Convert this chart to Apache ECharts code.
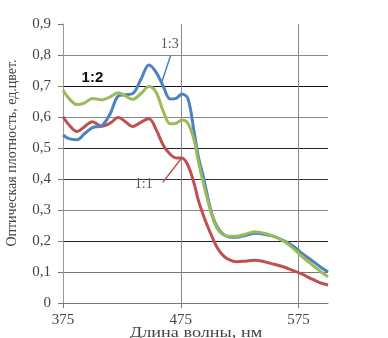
<!DOCTYPE html>
<html><head><meta charset="utf-8">
<script src="https://cdn.jsdelivr.net/npm/echarts@6/dist/echarts.min.js"></script>
<style>html,body{margin:0;padding:0;background:#fff}#c{width:388px;height:338px}</style>
</head><body><div id="c"></div>
<script>
const wavelengths = [375,380,387,393,400,408,415,422,428,434,441,448,454,460,466,471,476,481,486,490,494,498,502,506,511,516,522,530,538,546,554,562,570,578,586,593,600];
const ratio13 = [0.542,0.53,0.527,0.545,0.566,0.572,0.61,0.668,0.672,0.675,0.72,0.768,0.745,0.70,0.658,0.66,0.674,0.66,0.56,0.47,0.41,0.34,0.28,0.245,0.222,0.213,0.212,0.218,0.225,0.222,0.215,0.202,0.185,0.16,0.138,0.118,0.1];
const ratio12 = [0.687,0.66,0.64,0.645,0.66,0.655,0.665,0.678,0.668,0.657,0.675,0.698,0.68,0.62,0.578,0.58,0.59,0.58,0.53,0.455,0.39,0.33,0.275,0.24,0.22,0.215,0.215,0.222,0.23,0.225,0.215,0.2,0.178,0.15,0.125,0.103,0.085];
const ratio11 = [0.601,0.575,0.553,0.568,0.585,0.57,0.58,0.598,0.585,0.569,0.583,0.594,0.56,0.51,0.48,0.468,0.468,0.445,0.39,0.33,0.285,0.245,0.21,0.178,0.153,0.14,0.133,0.135,0.138,0.133,0.125,0.117,0.105,0.093,0.078,0.066,0.058];
const xStart = 375, xEnd = 600;
const xTicks = [375, 475, 575];
const yTitle = 'Оптическая плотность, ед.цвет.';
const xTitle = 'Длина волны, нм';
const colors = {'1:1':'#C0504D','1:3':'#4F81BD','1:2':'#9BBB59'};

const pairs = vals => wavelengths.map((w,i)=>[w - xStart, vals[i]]);
const tickVals = xTicks.map(t => t - xStart);
const serif = '"Liberation Serif", "DejaVu Serif", serif';
const chart = echarts.init(document.getElementById('c'), null, {renderer:'canvas'});
const mk = (name, vals) => ({
  name, type:'line', data: pairs(vals), smooth:0.35, showSymbol:false, symbol:'none',
  lineStyle:{width:3, color:colors[name]}, itemStyle:{color:colors[name]}, z: 3
});
chart.setOption({
  animation:false,
  grid:{left:63, right:60, top:24, bottom:35},
  xAxis:{type:'value', min:0, max:xEnd - xStart,
    axisLine:{show:true, lineStyle:{color:'#777', width:1}},
    axisTick:{show:true, length:5, customValues:tickVals, lineStyle:{color:'#777'}},
    splitLine:{show:true, lineStyle:{color:'#888', width:1}},
    axisLabel:{customValues:tickVals, formatter:v=>String(v + xStart), fontFamily:serif, fontSize:15, color:'#444', margin:10}},
  yAxis:{type:'value', min:0, max:0.9, interval:0.1,
    axisLine:{show:true, lineStyle:{color:'#999', width:1}},
    axisTick:{show:true, length:5, lineStyle:{color:'#777'}},
    splitLine:{show:true, lineStyle:{width:1, color:['#333','#777','#222','#888','#333','#222','#888','#111','#888','transparent']}},
    axisLabel:{formatter:v=> v===0 ? '0' : v.toFixed(1).replace('.',','), fontFamily:serif, fontSize:15, color:'#444', margin:12}},
  series:[mk('1:1', ratio11), mk('1:3', ratio13), mk('1:2', ratio12)]
});
const P = (w,v) => chart.convertToPixel({gridIndex:0}, [w - xStart, v]);
const a1 = P(466.5,0.80), a2 = P(458.9,0.713);
const b1 = P(459.7,0.389), b2 = P(475.6,0.467);
const c1 = P(400,0.725);
chart.setOption({graphic:[
  {type:'text', x:12, y:153, rotation:Math.PI/2, style:{text:yTitle, font:'14px '+serif, fill:'#444', align:'center', verticalAlign:'middle'}},
  {type:'text', x:196, y:333, scaleX:1.3, style:{text:xTitle, font:'14px '+serif, fill:'#444', align:'center', verticalAlign:'middle'}},
  {type:'line', shape:{x1:a1[0], y1:a1[1], x2:a2[0], y2:a2[1]}, style:{stroke:colors['1:3'], lineWidth:1.5}, z:10},
  {type:'line', shape:{x1:b1[0], y1:b1[1], x2:b2[0], y2:b2[1]}, style:{stroke:colors['1:1'], lineWidth:1.5}, z:10},
  {type:'text', x:a1[0]-1, y:a1[1]-11, style:{text:'1:3', font:'14px '+serif, fill:'#555', align:'center', verticalAlign:'middle'}, z:10},
  {type:'text', x:c1[0], y:c1[1], style:{text:'1:2', font:'bold 15px "Liberation Sans", Arial, sans-serif', fill:'#111', align:'center', verticalAlign:'middle'}, z:10},
  {type:'text', x:b1[0]-19, y:b1[1]+2, style:{text:'1:1', font:'14px '+serif, fill:'#555', align:'center', verticalAlign:'middle'}, z:10}
]});
</script></body></html>
